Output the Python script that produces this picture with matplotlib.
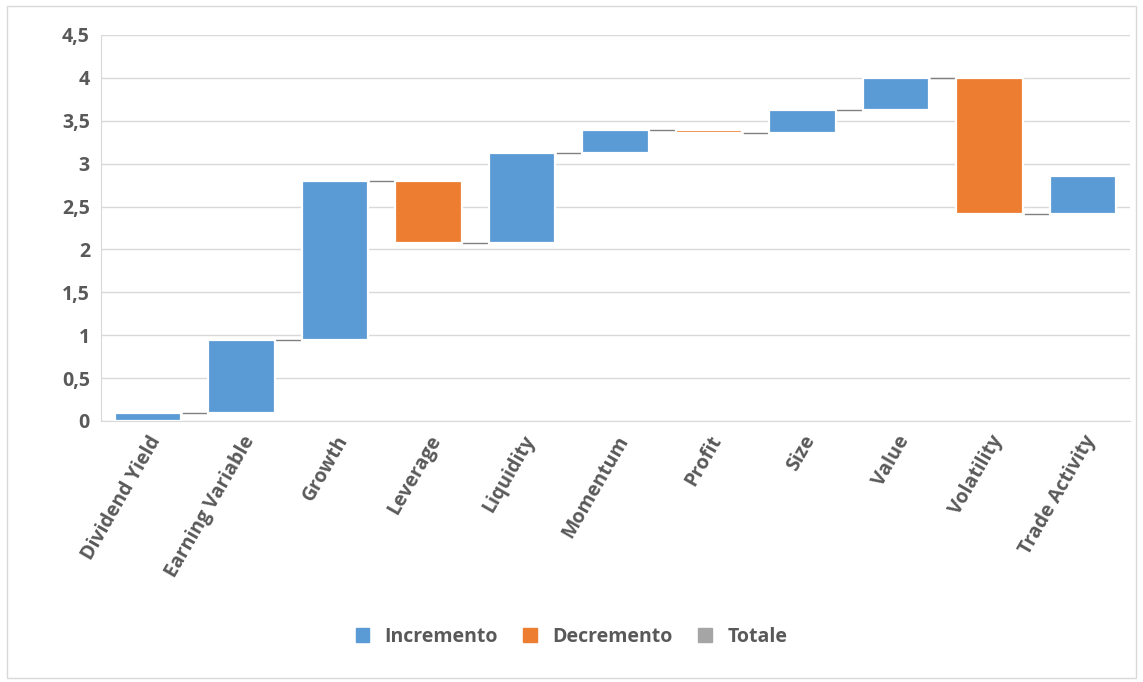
import numpy as np
import matplotlib.pyplot as plt
from matplotlib.patches import Patch, Rectangle
from matplotlib.ticker import FuncFormatter

# Data
categories = ['Dividend Yield', 'Earning Variable', 'Growth', 'Leverage', 'Liquidity',
              'Momentum', 'Profit', 'Size', 'Value', 'Volatility', 'Trade Activity']
changes = [0.09, 0.86, 1.85, -0.73, 1.06, 0.26, -0.03, 0.26, 0.38, -1.59, 0.45]
legend_labels = ['Incremento', 'Decremento', 'Totale']

blue = '#5b9bd5'
orange = '#ed7d31'
gray = '#a5a5a5'
text_col = '#595959'

plt.rcParams['font.family'] = ['Open Sans', 'DejaVu Sans']

ends = np.cumsum(changes)
starts = ends - np.array(changes)
x = np.arange(len(categories))
width = 0.71

fig = plt.figure(figsize=(11.43, 6.82), dpi=100)
ax = fig.add_axes([0.0884, 0.3827, 0.9, 0.566])

# outer chart frame
fig.patches.append(Rectangle((0.006, 0.006), 0.988, 0.985, transform=fig.transFigure,
                             fill=False, edgecolor='#d9d9d9', linewidth=1))

colors = [blue if c >= 0 else orange for c in changes]
ax.bar(x, np.abs(changes), bottom=np.minimum(starts, ends), width=width,
       color=colors, edgecolor='white', linewidth=1.6, zorder=3)

# connectors between bars
for i in range(len(x) - 1):
    ax.plot([x[i] + width / 2 + 0.02, x[i + 1] - width / 2 - 0.02], [ends[i], ends[i]],
            color='#808080', linewidth=1, zorder=2)

ax.set_xlim(-0.5, len(x) - 0.5)
ax.set_ylim(0, 4.5)
ax.set_yticks(np.arange(0, 4.51, 0.5))
ax.yaxis.set_major_formatter(FuncFormatter(lambda v, p: ('%g' % v).replace('.', ',')))
ax.grid(axis='y', color='#d9d9d9', linewidth=1, zorder=0)
ax.set_axisbelow(True)

for s in ['top', 'right']:
    ax.spines[s].set_visible(False)
ax.spines['left'].set_color('#d9d9d9')
ax.spines['bottom'].set_color('#d9d9d9')

ax.set_xticks(x)
ax.set_xticklabels(categories, rotation=60, ha='right', rotation_mode='anchor',
                   fontsize=14, fontweight='bold', color=text_col)
ax.tick_params(axis='both', length=0, pad=8)
for lab in ax.get_yticklabels():
    lab.set_fontsize(14)
    lab.set_fontweight('bold')
    lab.set_color(text_col)

handles = [Patch(color=c) for c in [blue, orange, gray]]
leg = fig.legend(handles, legend_labels, loc='center', bbox_to_anchor=(0.5, 0.066),
                 ncol=3, frameon=False, handlelength=0.7, handleheight=0.7,
                 columnspacing=1.3, handletextpad=0.8,
                 prop={'size': 14, 'weight': 'bold'})
for t in leg.get_texts():
    t.set_color(text_col)

fig.savefig('out.png', dpi=100)
